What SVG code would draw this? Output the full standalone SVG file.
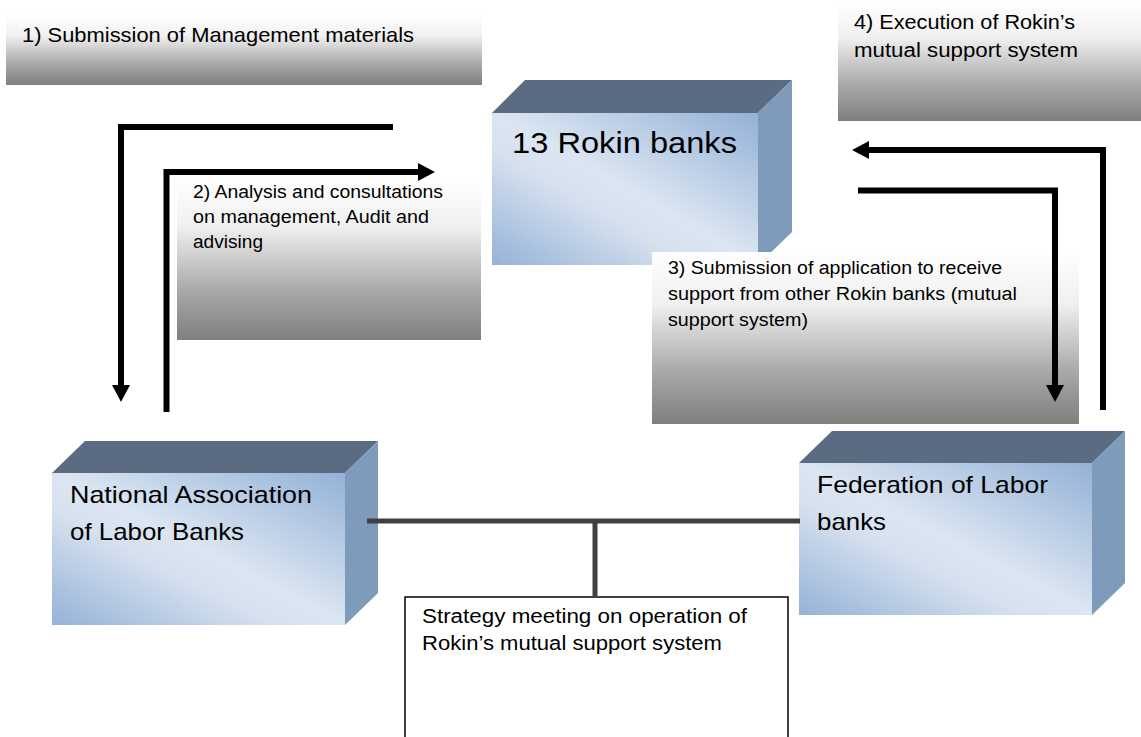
<svg xmlns="http://www.w3.org/2000/svg" width="1141" height="737" viewBox="0 0 1141 737">
<defs>
<linearGradient id="gray" x1="0" y1="0" x2="0" y2="1">
<stop offset="0" stop-color="#ffffff"/>
<stop offset="0.3" stop-color="#f0f0f0"/>
<stop offset="0.7" stop-color="#a8a8a8"/>
<stop offset="1" stop-color="#7f7f7f"/>
</linearGradient>
<linearGradient id="blue" x1="1" y1="0" x2="0" y2="1">
<stop offset="0" stop-color="#93b1d6"/>
<stop offset="0.5" stop-color="#dce6f2"/>
<stop offset="0.62" stop-color="#d6e1ef"/>
<stop offset="1" stop-color="#94b2d7"/>
</linearGradient>
<marker id="ah" markerUnits="userSpaceOnUse" markerWidth="17" markerHeight="18" refX="4" refY="9" orient="auto">
<path d="M0,0 L17,9 L0,18 z" fill="#000"/>
</marker>
</defs>
<style>
text{font-family:"Liberation Sans",Arial,sans-serif;fill:#000}
.top{fill:#5b6b82}
.side{fill:#7f9bbb}
.front{fill:url(#blue)}
.lbl{fill:url(#gray)}
.arr{fill:none;stroke:#000;stroke-width:6;stroke-linejoin:miter;stroke-linecap:butt;marker-end:url(#ah)}
.con{fill:none;stroke:#404040;stroke-width:5}
</style>

<g id="label1">
<rect class="lbl" x="6" y="15" width="476" height="70"/>
<text x="22" y="42" font-size="21" textLength="392" lengthAdjust="spacingAndGlyphs">1) Submission of Management materials</text>
</g>

<g id="label4">
<rect class="lbl" x="838" y="2" width="303" height="119"/>
<text x="854" y="29" font-size="20" textLength="221" lengthAdjust="spacingAndGlyphs">4) Execution of Rokin’s</text>
<text x="854" y="57" font-size="20" textLength="224" lengthAdjust="spacingAndGlyphs">mutual support system</text>
</g>

<g id="rokin">
<polygon class="top" points="492,113 525,80 792,80 758,113"/>
<polygon class="side" points="758,113 792,80 792,232 758,265"/>
<rect class="front" x="492" y="113" width="266" height="152"/>
<text x="512" y="153" font-size="30" textLength="225" lengthAdjust="spacingAndGlyphs">13 Rokin banks</text>
</g>

<g id="label2">
<rect class="lbl" x="177" y="178" width="304" height="162"/>
<text x="193" y="198" font-size="17.5" textLength="250" lengthAdjust="spacingAndGlyphs">2) Analysis and consultations</text>
<text x="193" y="223" font-size="17.5" textLength="236" lengthAdjust="spacingAndGlyphs">on management, Audit and</text>
<text x="193" y="248" font-size="17.5" textLength="70" lengthAdjust="spacingAndGlyphs">advising</text>
</g>

<g id="label3">
<rect class="lbl" x="652" y="252" width="427" height="172"/>
<text x="668" y="274" font-size="18" textLength="334" lengthAdjust="spacingAndGlyphs">3) Submission of application to receive</text>
<text x="668" y="300" font-size="18" textLength="349" lengthAdjust="spacingAndGlyphs">support from other Rokin banks (mutual</text>
<text x="668" y="326" font-size="18" textLength="140" lengthAdjust="spacingAndGlyphs">support system)</text>
</g>

<g id="national">
<polygon class="top" points="52,473 85,441 378,441 345,473"/>
<polygon class="side" points="345,473 378,441 378,593 345,625"/>
<rect class="front" x="52" y="473" width="293" height="152"/>
<text x="70" y="503" font-size="24" textLength="242" lengthAdjust="spacingAndGlyphs">National Association</text>
<text x="70" y="540" font-size="24" textLength="174" lengthAdjust="spacingAndGlyphs">of Labor Banks</text>
</g>

<g id="federation">
<polygon class="top" points="799,463 832,431 1125,431 1092,463"/>
<polygon class="side" points="1092,463 1125,431 1125,583 1092,615"/>
<rect class="front" x="799" y="463" width="293" height="152"/>
<text x="817" y="493" font-size="24" textLength="231" lengthAdjust="spacingAndGlyphs">Federation of Labor</text>
<text x="817" y="530" font-size="24" textLength="69" lengthAdjust="spacingAndGlyphs">banks</text>
</g>

<g id="strategy">
<rect x="405" y="597" width="383" height="160" fill="#fff" stroke="#000" stroke-width="1.5"/>
<text x="422" y="623" font-size="19.5" textLength="325" lengthAdjust="spacingAndGlyphs">Strategy meeting on operation of</text>
<text x="422" y="650" font-size="19.5" textLength="300" lengthAdjust="spacingAndGlyphs">Rokin’s mutual support system</text>
</g>

<g id="connectors">
<path class="arr" d="M393,127 H121 V389"/>
<path class="arr" d="M166.5,412 V172 H422"/>
<path class="arr" d="M858,190.5 H1055 V389"/>
<path class="arr" d="M1103,410 V150 H865"/>
<path class="con" d="M367,521 H800 M595,521 V597"/>
</g>
</svg>
